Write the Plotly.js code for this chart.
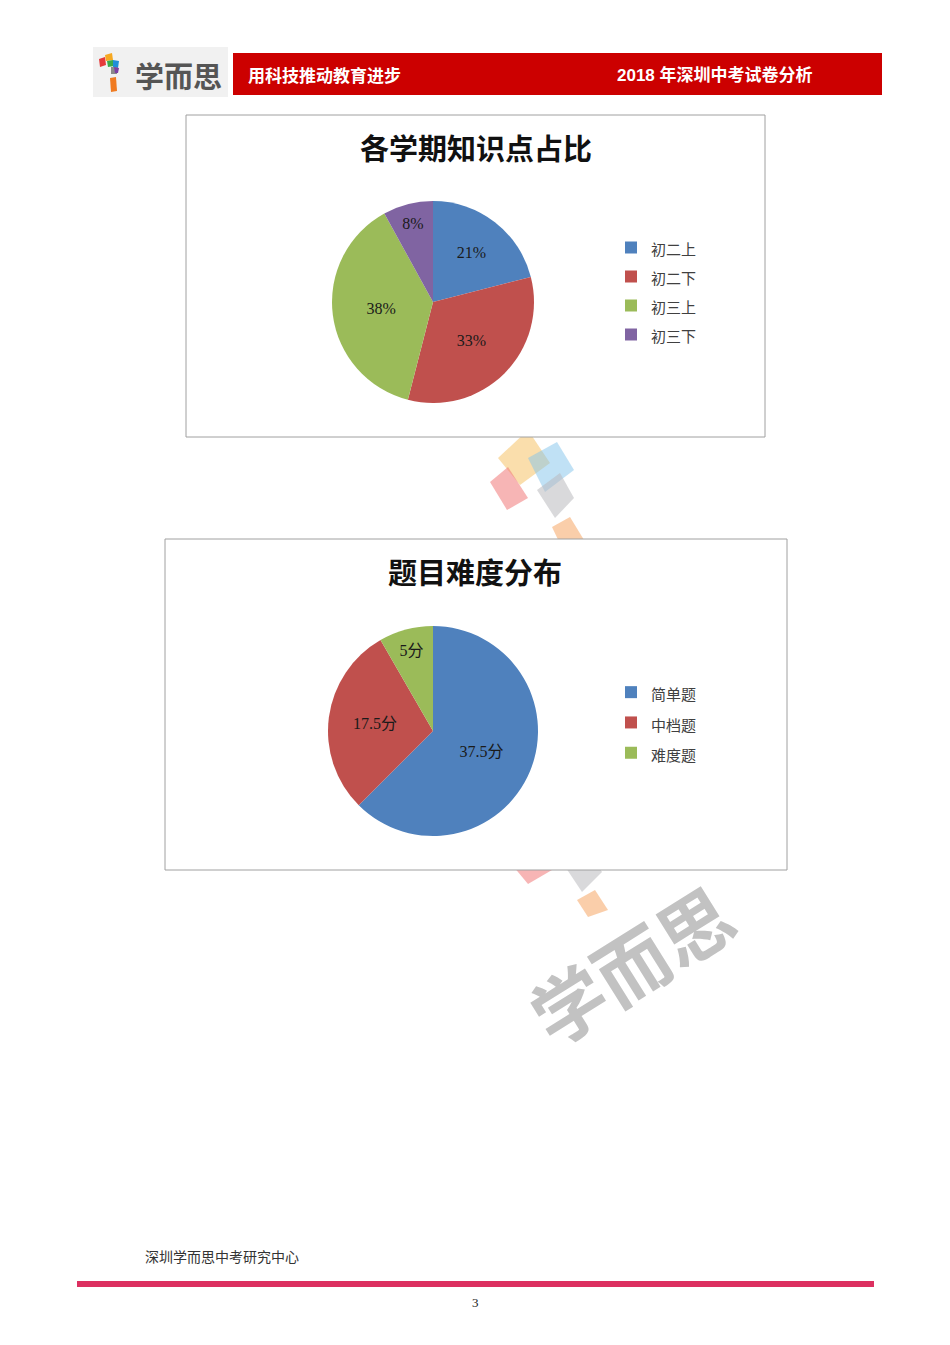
<!DOCTYPE html>
<html>
<head>
<meta charset="utf-8">
<script src="https://cdn.plot.ly/plotly-3.0.1.min.js"></script>
<style>
  html, body { margin: 0; padding: 0; background: #ffffff; }
  #page { width: 950px; height: 1345px; }
</style>
</head>
<body>
<div id="page"></div>
<script>
// ---- data ----
const chart1Title = '各学期知识点占比';
const termLabels = ['初二上', '初二下', '初三上', '初三下'];
const termShares = [21, 33, 38, 8];

const chart2Title = '题目难度分布';
const levelLabels = ['简单题', '中档题', '难度题'];
const levelScores = [37.5, 17.5, 5];

const headerLeftText = '用科技推动教育进步';
const headerRightText = '2018 年深圳中考试卷分析';
const brandText = '学而思';
const footerText = '深圳学而思中考研究中心';
const pageNumber = '3';

// ---- helpers (pixel -> paper) ----
const W = 950, H = 1345;
const px = x => x / W;
const py = y => 1 - y / H;

const cjk = '"Noto Sans CJK SC", "Noto Sans", sans-serif';
const serif = '"Liberation Serif", "DejaVu Serif", "Noto Sans CJK SC", serif';
const pieColors1 = ['#4f81bd', '#c0504d', '#9bbb59', '#8064a2'];
const pieColors2 = ['#4f81bd', '#c0504d', '#9bbb59'];

const legendLabel = (l) => '<span style="font-size:15px">' + l + '</span>';

const pie1 = {
  type: 'pie',
  labels: termLabels.map(legendLabel),
  values: termShares,
  sort: false,
  direction: 'clockwise',
  rotation: 0,
  marker: { colors: pieColors1, line: { width: 0 } },
  texttemplate: '%{value}%',
  textposition: 'inside',
  insidetextorientation: 'horizontal',
  textfont: { family: serif, size: 16, color: '#1a1a1a' },
  hoverinfo: 'skip',
  domain: { x: [px(332), px(534)], y: [py(403), py(201)] },
  legend: 'legend'
};

const pie2 = {
  type: 'pie',
  labels: levelLabels.map(legendLabel),
  values: levelScores,
  sort: false,
  direction: 'clockwise',
  rotation: 0,
  marker: { colors: pieColors2, line: { width: 0 } },
  texttemplate: '%{value}分',
  textposition: 'inside',
  insidetextorientation: 'horizontal',
  textfont: { family: serif, size: 16, color: '#1a1a1a' },
  hoverinfo: 'skip',
  domain: { x: [px(328), px(538)], y: [py(836), py(626)] },
  legend: 'legend2'
};

function rect(x0, y0, x1, y1, fill, line, lw) {
  return { type: 'rect', xref: 'paper', yref: 'paper', layer: 'below',
    x0: px(x0), x1: px(x1), y0: py(y1), y1: py(y0),
    fillcolor: fill, line: { color: line || fill, width: lw === undefined ? 0 : lw } };
}
function poly(pts, fill) {
  const d = 'M' + pts.map(p => px(p[0]) + ',' + py(p[1])).join('L') + 'Z';
  return { type: 'path', xref: 'paper', yref: 'paper', layer: 'below', path: d,
    fillcolor: fill, line: { width: 0 } };
}
function note(text, x, y, font, xanchor, extra) {
  return Object.assign({ text: text, x: px(x), y: py(y), xref: 'paper', yref: 'paper',
    xanchor: xanchor || 'center', yanchor: 'middle', showarrow: false, font: font }, extra || {});
}

const shapes = [
  // header logo block
  rect(93, 47, 228, 97, '#f1f1f1'),
  rect(233, 53, 882, 95, '#cc0000'),
  // logo pieces
  poly([[99, 59], [105, 57], [106, 65], [100, 67]], '#e53a3a'),
  poly([[105, 55], [112, 53], [113, 60], [106, 61]], '#f6a821'),
  poly([[107, 61], [113, 60], [114, 66], [108, 67]], '#3aaa4a'),
  poly([[113, 60], [119, 61], [118, 68], [113, 67]], '#1f8fd8'),
  poly([[111, 67], [117, 67], [117, 74], [111, 74]], '#8a8a8a'),
  poly([[114, 67], [119, 68], [118, 73], [115, 73]], '#7d3fa3'),
  poly([[110, 78], [116, 77], [117, 91], [111, 92]], '#f07b22'),
  // watermark squares between the charts
  poly([[498, 458], [528, 430], [550, 463], [520, 485]], 'rgba(246,190,90,0.5)'),
  poly([[528, 458], [557, 442], [574, 470], [545, 492]], 'rgba(130,195,235,0.5)'),
  poly([[490, 482], [508, 467], [528, 498], [507, 510]], 'rgba(240,120,120,0.55)'),
  poly([[537, 490], [560, 473], [574, 498], [555, 518]], 'rgba(185,185,190,0.55)'),
  poly([[552, 527], [570, 517], [584, 540], [562, 548]], 'rgba(245,165,100,0.55)'),
  // watermark squares below chart 2
  poly([[508, 860], [535, 845], [552, 870], [528, 884]], 'rgba(240,120,120,0.55)'),
  poly([[562, 862], [585, 845], [602, 872], [582, 892]], 'rgba(185,185,190,0.55)'),
  poly([[577, 900], [595, 890], [608, 910], [588, 917]], 'rgba(245,165,100,0.55)'),
  // chart frames
  rect(186, 115, 765, 437, '#ffffff', '#a0a0a0', 1),
  rect(165, 539, 787, 870, '#ffffff', '#a0a0a0', 1),
  // footer line
  rect(77, 1281, 874, 1287, '#dc3060')
];

const annotations = [
  note(brandText, 178, 75, { family: cjk, size: 29, color: '#555555', weight: 'bold' }),
  note(headerLeftText, 246, 74, { family: cjk, size: 17, color: '#ffffff', weight: 'bold' }, 'left'),
  note(headerRightText, 815, 75, { family: '"Liberation Sans", ' + cjk, size: 17, color: '#ffffff', weight: 'bold' }, 'right'),
  note(chart1Title, 476, 147, { family: cjk, size: 29, color: '#111111', weight: 'bold' }),
  note(chart2Title, 475, 571, { family: cjk, size: 29, color: '#111111', weight: 'bold' }),
  // large watermark
  note(brandText, 630, 962, { family: cjk, size: 74, color: '#c2c2c2', weight: 'bold' }, 'center', { textangle: -32 }),
  note(footerText, 143, 1256, { family: cjk, size: 14, color: '#333333' }, 'left'),
  note(pageNumber, 475, 1302, { family: serif, size: 13, color: '#222222' })
];

const legendBase = {
  xanchor: 'left', yanchor: 'top', bgcolor: 'rgba(0,0,0,0)', borderwidth: 0,
  traceorder: 'normal', orientation: 'v'
};

const layout = {
  width: W, height: H,
  margin: { l: 0, r: 0, t: 0, b: 0, pad: 0 },
  paper_bgcolor: '#ffffff',
  plot_bgcolor: '#ffffff',
  showlegend: true,
  legend: Object.assign({}, legendBase, { x: px(611), y: py(228),
    font: { family: cjk, size: 20, color: '#404040' } }),
  legend2: Object.assign({}, legendBase, { x: px(611), y: py(672),
    font: { family: cjk, size: 21, color: '#404040' } }),
  shapes: shapes,
  annotations: annotations
};

Plotly.newPlot('page', [pie1, pie2], layout, { displayModeBar: false, staticPlot: true });
</script>
</body>
</html>
